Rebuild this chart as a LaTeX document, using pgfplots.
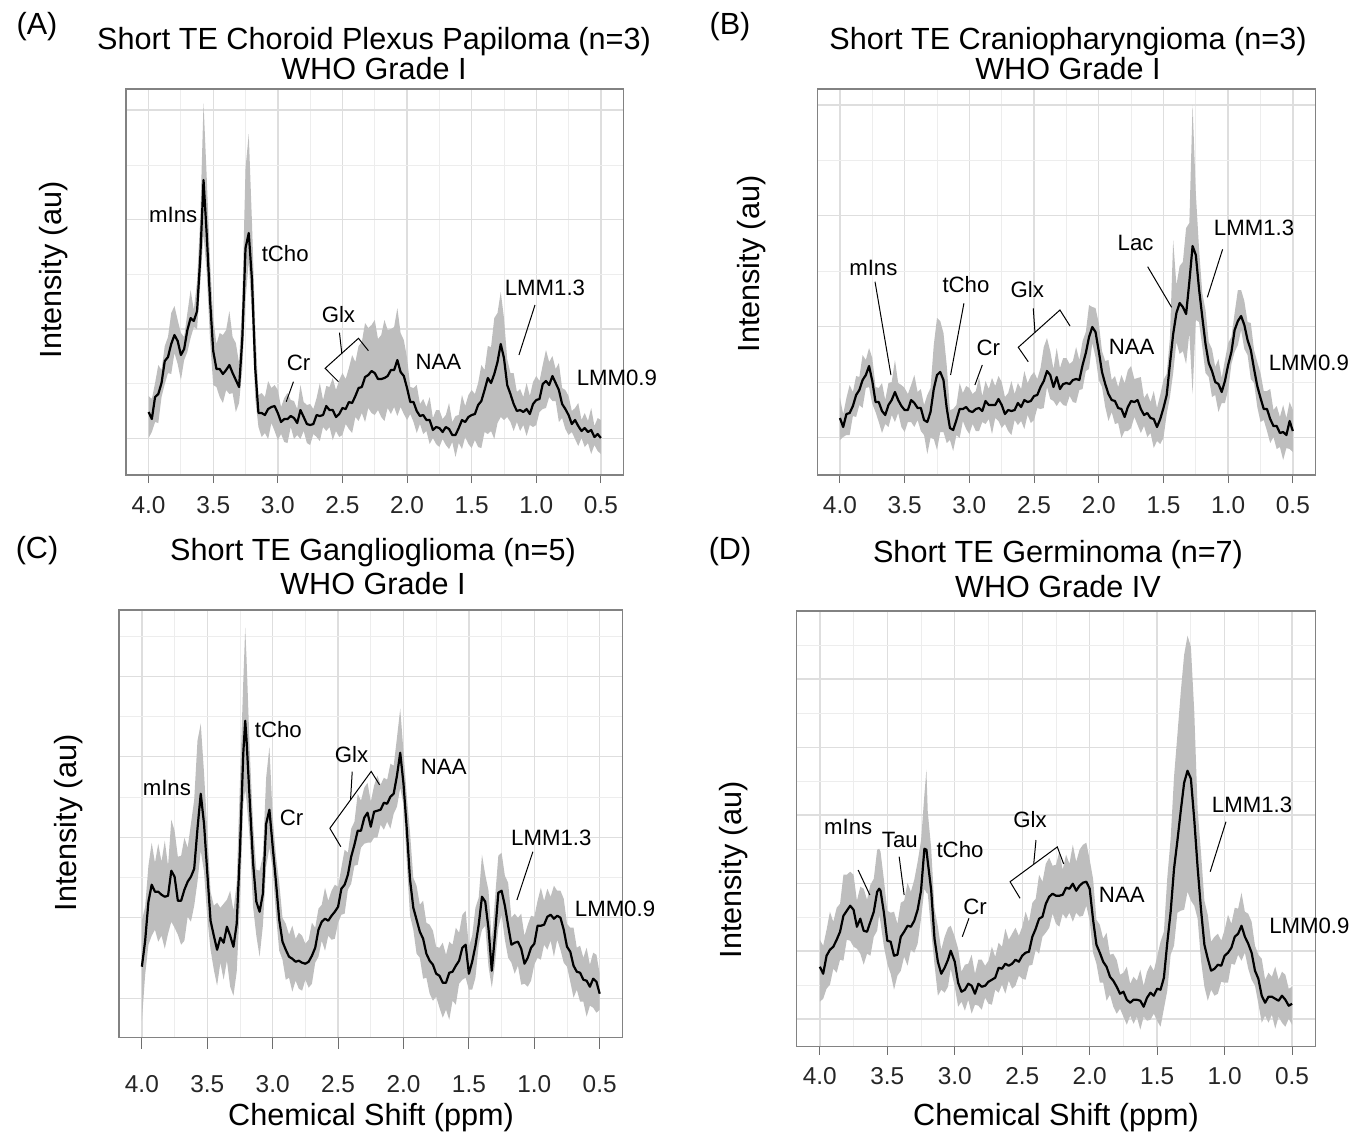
\documentclass[border=0pt]{standalone}
\usepackage{fontspec}
\setmainfont{Liberation Sans}
\usepackage{pgfplots}
\usepackage{pgfplotstable}
\pgfplotsset{compat=1.18}

\definecolor{band}{RGB}{190,190,190}
\definecolor{gmaj}{RGB}{222,222,222}
\definecolor{gmin}{RGB}{237,237,237}
\definecolor{frame}{RGB}{130,130,130}
\definecolor{tickc}{RGB}{110,110,110}

\newcommand\ttlfont{\fontsize{15.3}{18}\selectfont}
\newcommand\annfont{\fontsize{11.1}{13}\selectfont}

\tikzset{
  ann/.style={font=\annfont, inner sep=0pt, anchor=center},
  annl/.style={black, line width=0.5pt},
}

\pgfplotsset{
  spec/.style={
    scale only axis, clip=false, anchor=south west,
    x dir=reverse, xmin=0.325, xmax=4.175, ymin=0,
    xtick={0.5,1.0,1.5,2.0,2.5,3.0,3.5,4.0},
    minor xtick={0.75,1.25,1.75,2.25,2.75,3.25,3.75},
    /pgf/number format/fixed, /pgf/number format/fixed zerofill,
    /pgf/number format/precision=1, /pgf/number format/assume math mode=true,
    xticklabel style={font=\fontsize{12.2}{14}\selectfont, text=black!85, anchor=base, yshift=-15pt},
    yticklabels={}, ytick style={draw=none},
    xtick pos=bottom, tick align=outside,
    major tick length=4pt, minor tick length=0pt,
    xtick style={draw=tickc, line width=0.5pt},
    grid=both,
    major grid style={draw=gmaj, line width=0.7pt},
    minor grid style={draw=gmin, line width=0.45pt},
    axis line style={draw=frame, line width=0.6pt},
  },
  mean/.style={black, line width=1.1pt, line join=round},
}

% the band: lower edge, then its width stacked on top; then the mean line
\newcommand\spectrum[1]{%
  \addplot[draw=none, forget plot, stack plots=y] table[x=x,y=lo]{#1};
  \addplot[fill=band, draw=none, forget plot, stack plots=y] table[x=x,y expr=\thisrow{hi}-\thisrow{lo}]{#1} \closedcycle;
  \addplot[mean, stack plots=false] table[x=x,y=m]{#1};
}

% columns: chemical shift (ppm), mean, lower and upper edge of the band
\pgfplotstableread{
x m lo hi
4.000 63 37 79
3.975 56 43 76
3.950 78 53 92
3.925 81 52 110
3.900 92 78 105
3.875 114 91 129
3.850 118 102 138
3.825 131 101 162
3.800 140 122 169
3.775 134 111 155
3.750 120 95 142
3.725 126 115 138
3.700 145 123 162
3.675 157 137 185
3.650 154 148 165
3.625 164 146 194
3.600 218 192 258
3.575 295 241 372
3.550 240 202 297
3.525 176 136 215
3.500 124 90 157
3.475 106 88 131
3.450 106 78 142
3.425 101 72 140
3.400 105 85 145
3.375 110 81 164
3.350 102 82 138
3.325 95 63 132
3.300 88 72 112
3.275 136 106 175
3.250 227 175 307
3.225 242 213 341
3.200 195 158 252
3.175 107 77 150
3.150 62 48 80
3.125 62 38 82
3.100 60 42 78
3.075 66 36 94
3.050 68 52 87
3.025 69 44 90
3.000 62 35 85
2.975 53 41 68
2.950 56 33 77
2.925 56 32 82
2.900 59 48 75
2.875 57 36 74
2.850 52 40 66
2.825 65 36 90
2.800 58 44 73
2.775 51 32 70
2.750 50 30 71
2.725 51 41 66
2.700 60 38 77
2.675 59 34 92
2.650 60 48 75
2.625 69 44 89
2.600 65 48 88
2.575 65 35 97
2.550 58 44 85
2.525 61 38 95
2.500 67 40 102
2.475 66 51 96
2.450 73 46 107
2.425 72 42 120
2.400 79 58 113
2.375 87 54 129
2.350 88 62 133
2.325 98 53 152
2.300 100 67 147
2.275 104 62 150
2.250 102 60 155
2.225 96 65 136
2.200 96 58 140
2.175 97 54 155
2.150 99 67 145
2.125 105 61 146
2.100 105 68 148
2.075 115 59 167
2.050 103 68 142
2.025 99 61 135
2.000 87 55 117
1.975 73 61 88
1.950 73 53 87
1.925 64 42 90
1.900 59 51 71
1.875 60 41 76
1.850 55 44 68
1.825 55 31 78
1.800 45 37 57
1.775 48 31 65
1.750 47 28 65
1.725 43 36 56
1.700 48 30 60
1.675 46 26 72
1.650 40 33 53
1.625 40 18 59
1.600 47 32 60
1.575 55 26 80
1.550 53 38 69
1.525 58 31 80
1.500 60 27 85
1.475 61 35 81
1.450 70 28 92
1.425 74 27 110
1.400 85 43 105
1.375 97 41 129
1.350 92 44 128
1.325 101 36 157
1.300 113 52 162
1.275 131 58 183
1.250 117 55 157
1.225 90 58 116
1.200 81 53 102
1.175 71 44 102
1.150 64 53 83
1.125 65 44 86
1.100 63 50 78
1.075 66 39 92
1.050 61 50 79
1.025 71 48 93
1.000 75 50 99
0.975 76 63 94
0.950 91 66 110
0.925 94 67 125
0.900 90 78 113
0.875 99 74 119
0.850 92 74 106
0.825 85 53 112
0.800 71 57 87
0.775 66 46 85
0.750 60 40 79
0.725 51 43 64
0.700 55 36 67
0.675 49 29 72
0.650 44 37 55
0.625 47 28 62
0.600 43 32 54
0.575 45 21 67
0.550 38 30 49
0.525 41 24 57
0.500 37 21 55
}\tA

\pgfplotstableread{
x m lo hi
4.000 57 35 77
3.975 48 38 61
3.950 61 40 77
3.925 62 40 90
3.900 69 59 83
3.875 80 58 99
3.850 85 70 98
3.825 95 67 120
3.800 100 87 115
3.775 109 88 127
3.750 94 71 117
3.725 73 63 88
3.700 73 53 87
3.675 64 42 92
3.650 60 51 75
3.625 70 48 92
3.600 75 60 93
3.575 83 53 115
3.550 75 62 92
3.525 69 48 90
3.500 65 43 87
3.475 65 53 81
3.450 75 53 90
3.425 72 48 100
3.400 67 55 83
3.375 67 44 86
3.350 55 40 70
3.325 53 21 80
3.300 63 37 87
3.275 86 36 130
3.250 100 25 157
3.225 103 43 154
3.200 95 43 142
3.175 67 32 110
3.150 47 35 65
3.125 45 24 66
3.100 55 40 70
3.075 66 37 92
3.050 66 54 82
3.025 68 46 89
3.000 64 41 87
2.975 63 51 81
2.950 66 44 84
2.925 67 44 98
2.900 64 53 79
2.875 74 51 94
2.850 70 56 86
2.825 70 41 97
2.800 70 57 89
2.775 76 54 99
2.750 70 47 93
2.725 61 51 78
2.700 65 44 82
2.675 64 40 94
2.650 65 55 81
2.625 72 50 92
2.600 68 54 86
2.575 75 46 104
2.550 73 60 92
2.525 74 52 99
2.500 79 55 103
2.475 80 67 96
2.450 88 66 107
2.425 94 67 128
2.400 104 88 137
2.375 100 76 124
2.350 88 74 106
2.325 98 69 127
2.300 86 74 107
2.275 91 70 117
2.250 92 69 117
2.225 91 79 111
2.200 95 73 114
2.175 96 72 128
2.150 95 85 115
2.125 110 86 134
2.100 122 104 143
2.075 138 106 170
2.050 148 132 168
2.025 143 118 167
2.000 124 95 152
1.975 103 88 124
1.950 91 68 114
1.925 81 54 115
1.900 75 63 95
1.875 74 51 99
1.850 67 52 88
1.825 66 37 100
1.800 58 44 92
1.775 68 44 105
1.750 74 47 109
1.725 73 58 96
1.700 75 50 97
1.675 66 42 98
1.650 60 49 77
1.625 62 38 82
1.600 57 42 73
1.575 56 27 84
1.550 48 34 67
1.525 56 31 80
1.500 67 37 95
1.475 80 61 101
1.450 111 78 137
1.425 141 102 235
1.400 162 133 190
1.375 172 121 209
1.350 168 124 213
1.325 161 111 247
1.300 193 142 252
1.275 229 81 370
1.250 220 155 282
1.225 186 153 226
1.200 158 128 182
1.175 131 102 165
1.150 112 98 133
1.125 104 78 126
1.100 93 80 108
1.075 91 63 116
1.050 83 72 97
1.025 94 72 115
1.000 110 85 132
0.975 123 111 138
0.950 145 123 162
0.925 154 130 185
0.900 159 145 185
0.875 150 126 174
0.850 135 120 153
0.825 125 96 152
0.800 106 92 125
0.775 89 68 113
0.750 77 53 102
0.725 66 55 84
0.700 66 44 84
0.675 56 32 86
0.650 49 38 65
0.625 49 26 69
0.600 42 28 58
0.575 43 15 70
0.550 40 27 57
0.525 54 26 73
0.500 44 23 65
}\tB

\pgfplotstableread{
x m lo hi
4.000 71 17 117
3.975 97 63 131
3.950 136 93 172
3.925 153 102 195
3.900 146 108 175
3.875 146 96 194
3.850 143 102 176
3.825 141 89 197
3.800 142 104 172
3.775 167 116 218
3.750 161 110 207
3.725 137 103 181
3.700 137 93 182
3.675 148 97 200
3.650 156 121 190
3.625 161 116 214
3.600 169 132 238
3.575 209 156 297
3.550 244 187 314
3.525 214 166 265
3.500 165 120 207
3.475 117 88 146
3.450 102 68 132
3.425 88 52 135
3.400 100 75 130
3.375 95 58 134
3.350 111 77 138
3.325 102 51 147
3.300 91 42 127
3.275 114 66 155
3.250 188 135 257
3.225 284 233 356
3.210 317 248 410
3.200 298 237 380
3.175 236 198 285
3.150 175 131 214
3.125 136 102 168
3.100 126 81 167
3.075 144 112 182
3.050 214 171 260
3.025 228 190 291
3.000 191 168 221
2.975 156 123 182
2.950 118 87 155
2.925 96 78 120
2.900 88 58 114
2.875 81 60 103
2.850 79 46 112
2.825 76 57 99
2.800 77 49 105
2.775 75 47 102
2.750 74 58 94
2.725 76 50 98
2.700 82 54 115
2.675 90 75 110
2.650 108 81 129
2.625 116 97 133
2.600 119 87 150
2.575 117 102 137
2.550 122 98 147
2.525 126 99 153
2.500 131 115 151
2.475 149 123 170
2.450 153 124 188
2.425 163 148 185
2.400 181 154 209
2.375 193 172 216
2.350 207 173 244
2.325 207 190 237
2.300 220 194 250
2.275 225 195 255
2.250 211 195 236
2.225 226 200 252
2.200 227 200 262
2.175 228 213 253
2.150 235 208 260
2.125 234 216 258
2.100 241 209 274
2.075 244 224 272
2.050 262 231 300
2.025 285 250 329
2.000 254 233 286
1.975 209 176 242
1.950 158 122 205
1.925 130 108 160
1.900 118 84 152
1.875 106 80 133
1.850 99 59 137
1.825 84 60 115
1.800 77 44 113
1.775 73 37 107
1.750 64 41 91
1.725 62 30 90
1.700 55 20 95
1.675 55 28 83
1.650 65 18 96
1.625 66 37 93
1.600 72 33 110
1.575 77 54 105
1.550 90 58 123
1.525 93 60 127
1.500 64 48 91
1.475 76 48 102
1.450 92 60 130
1.425 113 93 140
1.400 141 108 183
1.375 136 112 163
1.350 109 71 147
1.325 67 50 97
1.300 104 74 140
1.275 145 110 182
1.250 147 123 185
1.225 132 98 162
1.200 112 80 155
1.175 93 75 120
1.150 95 64 124
1.125 96 72 120
1.100 89 53 124
1.075 74 54 102
1.050 80 51 113
1.025 90 57 122
1.000 94 73 121
0.975 112 80 137
0.950 112 78 150
0.925 113 93 137
0.900 121 88 149
0.875 123 97 141
0.850 119 81 152
0.825 122 98 147
0.800 120 88 147
0.775 108 75 139
0.750 91 71 114
0.725 86 56 110
0.700 72 40 110
0.675 66 48 90
0.650 65 36 92
0.625 58 36 80
0.600 57 21 90
0.575 51 32 73
0.550 59 30 85
0.525 56 25 83
0.500 44 28 64
}\tC

\pgfplotstableread{
x m lo hi
4.000 80 45 107
3.975 73 48 101
3.950 91 58 117
3.925 97 62 135
3.900 100 78 125
3.875 107 74 139
3.850 115 87 143
3.825 131 86 172
3.800 136 107 172
3.775 141 106 175
3.750 137 100 172
3.725 120 98 146
3.700 128 93 160
3.675 116 82 158
3.650 115 93 147
3.625 125 91 162
3.600 135 110 168
3.575 155 116 197
3.560 158 132 198
3.550 156 124 195
3.525 134 100 167
3.500 106 83 136
3.475 105 73 134
3.450 91 57 135
3.425 92 71 123
3.400 110 76 144
3.375 115 90 146
3.350 121 81 164
3.325 120 97 155
3.300 126 94 167
3.275 137 103 185
3.250 156 128 206
3.225 198 158 252
3.210 197 154 277
3.200 185 153 235
3.175 157 116 199
3.150 108 82 138
3.125 85 51 120
3.100 73 57 97
3.075 79 54 110
3.050 87 60 119
3.030 96 78 121
3.000 85 60 110
2.975 64 40 98
2.950 55 45 75
2.925 57 36 82
2.900 63 47 83
2.875 61 33 92
2.850 53 42 73
2.825 63 41 87
2.800 60 37 87
2.775 61 49 81
2.750 65 43 86
2.725 67 42 100
2.700 69 57 90
2.675 79 54 104
2.650 78 62 100
2.625 83 53 118
2.600 81 66 107
2.575 83 58 113
2.550 87 61 119
2.525 85 71 111
2.500 91 68 120
2.475 94 67 135
2.450 95 81 125
2.425 110 82 144
2.400 118 97 148
2.375 128 93 172
2.350 130 110 165
2.325 143 114 183
2.300 150 119 189
2.275 153 133 181
2.250 151 123 182
2.225 151 120 195
2.200 152 133 177
2.175 159 128 192
2.150 158 134 183
2.125 163 125 202
2.100 156 134 185
2.075 161 130 197
2.050 164 131 202
2.025 165 141 204
2.000 158 126 187
1.975 127 94 168
1.950 102 83 127
1.925 94 64 122
1.900 85 64 108
1.875 80 46 114
1.850 70 52 92
1.825 66 40 93
1.800 60 33 87
1.775 53 38 72
1.750 55 30 74
1.725 47 22 80
1.700 44 31 63
1.675 47 23 70
1.650 47 30 66
1.625 46 17 77
1.600 40 30 61
1.575 49 26 75
1.550 54 27 82
1.525 51 33 76
1.500 58 26 90
1.475 57 20 105
1.450 69 38 115
1.425 104 56 169
1.400 135 92 208
1.375 178 101 270
1.350 206 134 312
1.325 236 136 355
1.300 264 137 392
1.275 276 155 411
1.250 268 146 400
1.225 227 141 335
1.200 179 128 237
1.175 137 86 194
1.150 102 60 146
1.125 88 46 132
1.100 76 57 105
1.075 78 51 110
1.050 82 53 113
1.025 81 65 106
1.000 91 64 117
0.975 94 64 132
0.950 99 83 123
0.925 110 82 139
0.900 113 92 138
0.875 121 86 154
0.850 110 94 135
0.825 103 78 133
0.800 94 67 125
0.775 76 61 101
0.750 68 43 92
0.725 51 24 88
0.700 44 31 67
0.675 50 24 74
0.650 50 32 70
0.625 48 18 80
0.600 46 30 67
0.575 51 24 75
0.550 47 20 72
0.525 41 28 58
0.500 43 22 60
}\tD

\begin{document}
\begin{tikzpicture}
\useasboundingbox (0,0) rectangle (676.5pt,-566pt);

% (A)
\begin{axis}[spec, at={(63pt,-237.5pt)}, width=248.75pt, height=193pt, ymax=386,
  ytick={36.5,146,255.5,365}, minor ytick={91.5,201,310}]
\spectrum{\tA}
\node[ann] at (axis cs:3.81,260) {mIns};
\node[ann] at (axis cs:2.943,221.7) {tCho};
\node[ann] at (axis cs:2.84,111.7) {Cr};
\draw[annl] (axis cs:2.879,93.3) -- (axis cs:2.935,73.3);
\node[ann] at (axis cs:2.531,160) {Glx};
\draw[annl] (axis cs:2.531,93.3) -- (axis cs:2.634,106.7) -- (axis cs:2.376,136.7) -- (axis cs:2.299,124.3);
\draw[annl] (axis cs:2.523,142.3) -- (axis cs:2.505,121.7);
\node[ann] at (axis cs:1.758,113.3) {NAA};
\node[ann] at (axis cs:0.933,186.7) {LMM1.3};
\draw[annl] (axis cs:1.010,170) -- (axis cs:1.134,120);
\node[ann] at (axis cs:0.376,97) {LMM0.9};
\end{axis}

% (B)
\begin{axis}[spec, at={(408.65pt,-237.5pt)}, width=249.1pt, height=193pt, ymax=386,
  ytick={37.7,148.3,259.3,370}, minor ytick={92.3,203.3,315}]
\spectrum{\tB}
\node[ann] at (axis cs:3.742,206.7) {mIns};
\draw[annl] (axis cs:3.729,193.3) -- (axis cs:3.606,100);
\node[ann] at (axis cs:3.026,190) {tCho};
\draw[annl] (axis cs:3.042,171.7) -- (axis cs:3.145,100);
\node[ann] at (axis cs:2.854,126.7) {Cr};
\draw[annl] (axis cs:2.90,110) -- (axis cs:2.957,90);
\node[ann] at (axis cs:2.552,185) {Glx};
\draw[annl] (axis cs:2.545,113.3) -- (axis cs:2.622,127.7) -- (axis cs:2.300,165) -- (axis cs:2.222,149);
\draw[annl] (axis cs:2.506,166.7) -- (axis cs:2.493,142.6);
\node[ann] at (axis cs:1.746,128.3) {NAA};
\node[ann] at (axis cs:1.715,231.7) {Lac};
\draw[annl] (axis cs:1.622,208.3) -- (axis cs:1.437,167.7);
\node[ann] at (axis cs:0.80,246.7) {LMM1.3};
\draw[annl] (axis cs:1.043,225.7) -- (axis cs:1.161,177.7);
\node[ann] at (axis cs:0.376,112) {LMM0.9};
\end{axis}

% (C)
\begin{axis}[spec, at={(59.5pt,-518.85pt)}, width=251.8pt, height=213.85pt, ymax=427.7,
  ytick={39.4,120.4,200.4,281,361}, minor ytick={79,160,240.7,321,401},
  major tick length=5.5pt, xticklabel style={yshift=-7pt}]
\spectrum{\tC}
\node[ann] at (axis cs:3.809,249.4) {mIns};
\node[ann] at (axis cs:2.957,307.7) {tCho};
\node[ann] at (axis cs:2.855,219.4) {Cr};
\node[ann] at (axis cs:2.397,282.7) {Glx};
\draw[annl] (axis cs:2.479,191) -- (axis cs:2.563,209.4) -- (axis cs:2.247,266.3) -- (axis cs:2.183,252.9);
\draw[annl] (axis cs:2.392,266) -- (axis cs:2.405,237.8);
\node[ann] at (axis cs:1.692,271) {NAA};
\node[ann] at (axis cs:0.870,200) {LMM1.3};
\draw[annl] (axis cs:1.011,186) -- (axis cs:1.133,137.7);
\node[ann] at (axis cs:0.383,128.5) {LMM0.9};
\end{axis}

% (D)
\begin{axis}[spec, at={(398.1pt,-523.35pt)}, width=259.75pt, height=217.85pt, ymax=435.7,
  ytick={27.7,95.7,163.4,231.7,299.4,367.7}, minor ytick={61.7,129.4,197.7,265.7,333.4,401.7}]
\spectrum{\tD}
\node[ann] at (axis cs:3.79,220) {mIns};
\draw[annl] (axis cs:3.716,176.7) -- (axis cs:3.629,151.7);
\node[ann] at (axis cs:3.407,206.7) {Tau};
\draw[annl] (axis cs:3.412,190) -- (axis cs:3.375,151.7);
\node[ann] at (axis cs:2.961,197.4) {tCho};
\node[ann] at (axis cs:2.850,140) {Cr};
\draw[annl] (axis cs:2.895,128.4) -- (axis cs:2.944,110);
\node[ann] at (axis cs:2.442,226.7) {Glx};
\draw[annl] (axis cs:2.516,148.4) -- (axis cs:2.590,165) -- (axis cs:2.240,199.8) -- (axis cs:2.193,182.8);
\draw[annl] (axis cs:2.398,206.7) -- (axis cs:2.415,182.4);
\node[ann] at (axis cs:1.762,151.7) {NAA};
\node[ann] at (axis cs:0.797,241.7) {LMM1.3};
\draw[annl] (axis cs:0.990,225) -- (axis cs:1.107,175);
\node[ann] at (axis cs:0.372,121) {LMM0.9};
\end{axis}

% titles, panel letters and axis titles, placed in reference pixels
\begin{scope}[x=0.5pt, y=-0.5pt, every node/.style={font=\ttlfont, inner sep=0pt}]
\node[anchor=base] at (37,34) {(A)};
\node[anchor=base] at (374,49) {Short TE Choroid Plexus Papiloma (n=3)};
\node[anchor=base] at (374,79) {WHO Grade I};
\node[rotate=90] at (54,270) {Intensity (au)};

\node[anchor=base] at (730,34) {(B)};
\node[anchor=base] at (1068,49) {Short TE Craniopharyngioma (n=3)};
\node[anchor=base] at (1068,79) {WHO Grade I};
\node[rotate=90] at (752,264) {Intensity (au)};

\node[anchor=base] at (37,558) {(C)};
\node[anchor=base] at (373,560) {Short TE Ganglioglioma (n=5)};
\node[anchor=base] at (373,594) {WHO Grade I};
\node[rotate=90] at (69,823) {Intensity (au)};
\node[anchor=base] at (371,1125) {Chemical Shift (ppm)};

\node[anchor=base] at (730,559) {(D)};
\node[anchor=base] at (1058,562) {Short TE Germinoma (n=7)};
\node[anchor=base] at (1058,597) {WHO Grade IV};
\node[rotate=90] at (734,870) {Intensity (au)};
\node[anchor=base] at (1056,1125) {Chemical Shift (ppm)};
\end{scope}
\end{tikzpicture}
\end{document}
